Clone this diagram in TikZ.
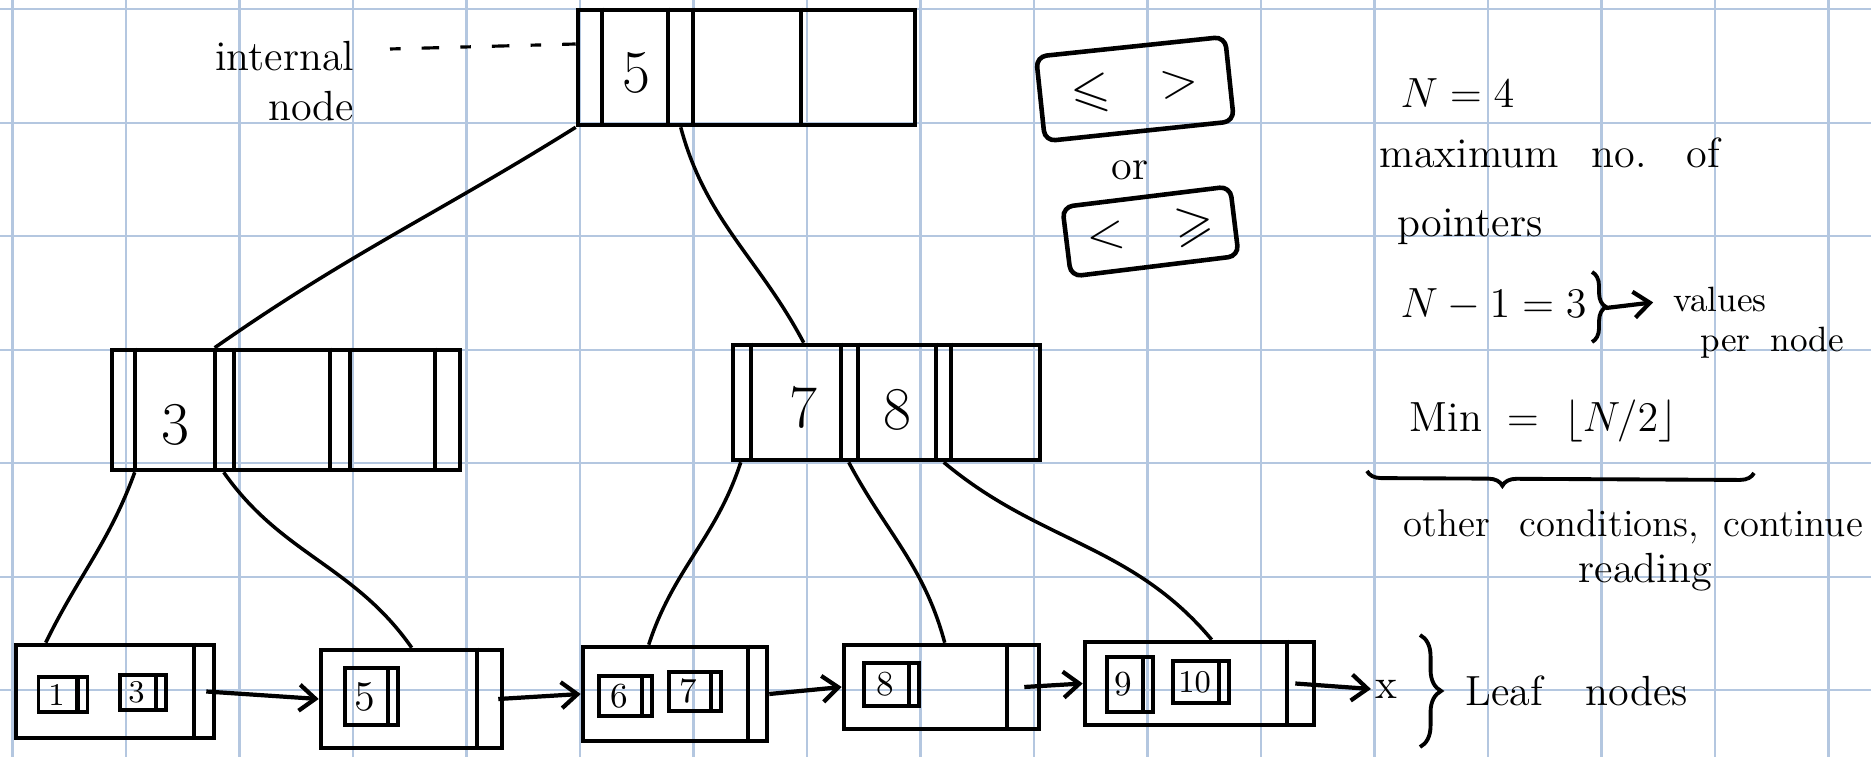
\documentclass[tikz,border=0pt]{standalone}
\usepackage{amsmath,amssymb}
\usepackage{tikz}
\usetikzlibrary{arrows.meta,decorations.pathreplacing}
\definecolor{gridblue}{RGB}{180,199,224}

\begin{document}
\begin{tikzpicture}[
  tnode/.style={draw, line width=1.3pt, inner sep=0pt},
  leaf/.style={draw, line width=1.3pt, inner sep=0pt},
  kbox/.style={draw, line width=1.1pt, inner sep=1pt, font=\normalsize,
               execute at end node=\hspace{1.3mm}},
  sep/.style={line width=1.2pt},
  key/.style={font=\LARGE},
  ptr/.style={line width=1pt},
  link/.style={line width=1.2pt, -{Straight Barb[length=1.6mm, width=2.6mm]}},
  cmp/.style={draw, line width=1.3pt, rounded corners=3pt, font=\Large},
  note/.style={font=\large, anchor=base west, inner sep=0pt},
  hint/.style={line width=0.9pt, dash pattern=on 3pt off 6pt on 5pt off 6pt},
  hbrace/.style={decorate, decoration={brace, amplitude=#1}, line width=1.1pt}
]
  \useasboundingbox (0,0) rectangle (18.71,-7.57);
  % squared paper
  \foreach \i in {0,...,16}
    \draw[gridblue, line width=0.6pt] (0.125+1.135*\i,0) -- (0.125+1.135*\i,-7.57);
  \foreach \j in {0,...,6}
    \draw[gridblue, line width=0.6pt] (0,-0.093-1.135*\j) -- (18.71,-0.093-1.135*\j);

  % internal nodes
  \node[tnode, minimum width=3.37cm, minimum height=1.15cm] (root) at (7.465,-0.675) {};
  \node[key] (r5) at (6.36,-0.73) {5};
  \foreach \d in {0.26,0.92,1.17,2.25}
    \draw[sep] ([xshift=\d cm]root.north west) -- ([xshift=\d cm]root.south west);

  \node[tnode, minimum width=3.48cm, minimum height=1.2cm] (midL) at (2.86,-4.10) {};
  \node[key] (m3) at (1.75,-4.25) {3};
  \foreach \d in {0.25,1.05,1.24,2.20,2.40,3.25}
    \draw[sep] ([xshift=\d cm]midL.north west) -- ([xshift=\d cm]midL.south west);

  \node[tnode, minimum width=3.07cm, minimum height=1.15cm] (midR) at (8.865,-4.025) {};
  \node[key] (m7) at (8.03,-4.07) {7};
  \node[key] (m8) at (8.97,-4.10) {8};
  \foreach \d in {0.20,1.10,1.27,2.05,2.20}
    \draw[sep] ([xshift=\d cm]midR.north west) -- ([xshift=\d cm]midR.south west);

  % leaf nodes
  \node[leaf, minimum width=1.98cm, minimum height=0.93cm] (leafA) at (1.15,-6.915) {};
  \node[leaf, minimum width=1.81cm, minimum height=0.98cm] (leafB) at (4.115,-6.99) {};
  \node[leaf, minimum width=1.84cm, minimum height=0.94cm] (leafC) at (6.75,-6.94) {};
  \node[leaf, minimum width=1.95cm, minimum height=0.84cm] (leafD) at (9.415,-6.87) {};
  \node[leaf, minimum width=2.29cm, minimum height=0.83cm] (leafE) at (11.995,-6.835) {};
  \foreach \n/\d in {leafA/0.22, leafB/0.27, leafC/0.21, leafD/0.34, leafE/0.29}
    \draw[sep] ([xshift=-\d cm]\n.north east) -- ([xshift=-\d cm]\n.south east);

  \node[kbox, minimum width=0.49cm, minimum height=0.35cm, font=\small] (kA1) at (0.63,-6.945) {1};
  \node[kbox, minimum width=0.46cm, minimum height=0.35cm, font=\small] (kA3) at (1.43,-6.925) {3};
  \node[kbox, minimum width=0.53cm, minimum height=0.57cm, font=\large] (kB5) at (3.715,-6.965) {5};
  \node[kbox, minimum width=0.53cm, minimum height=0.40cm] (kC6) at (6.255,-6.96) {6};
  \node[kbox, minimum width=0.52cm, minimum height=0.39cm] (kC7) at (6.95,-6.915) {7};
  \node[kbox, minimum width=0.55cm, minimum height=0.43cm] (kD8) at (8.915,-6.845) {8};
  \node[kbox, minimum width=0.46cm, minimum height=0.55cm] (kE9) at (11.30,-6.845) {9};
  \node[kbox, minimum width=0.56cm, minimum height=0.42cm, font=\small] (kE10) at (12.01,-6.82) {10};
  \foreach \k in {kA1,kA3,kB5,kC6,kC7,kD8,kE9,kE10}
    \draw[sep] ([xshift=-1.2mm]\k.north east) -- ([xshift=-1.2mm]\k.south east);

  % tree pointers
  \draw[ptr] (root.south west) to[out=212,in=35] ([xshift=1.05cm]midL.north west);
  \draw[ptr] ([xshift=1.05cm]root.south west) to[out=-75,in=118] ([xshift=0.73cm]midR.north west);
  \draw[ptr] ([xshift=0.25cm]midL.south west) to[out=-110,in=64] ([xshift=0.32cm]leafA.north west);
  \draw[ptr] ([xshift=1.14cm]midL.south west) to[out=-55,in=125] ([xshift=0.93cm]leafB.north west);
  \draw[ptr] ([xshift=0.10cm]midR.south west) to[out=-108,in=72] ([xshift=0.68cm]leafC.north west);
  \draw[ptr] ([xshift=1.18cm]midR.south west) to[out=-62,in=105] ([xshift=1.03cm]leafD.north west);
  \draw[ptr] ([xshift=2.13cm]midR.south west) to[out=-40,in=130] ([xshift=1.29cm]leafE.north west);

  % leaf chain
  \node[font=\large, inner sep=1pt] (nil) at (13.86,-6.89) {x};
  \draw[link] ([xshift=-0.10cm]leafA.east) -- (leafB.west);
  \draw[link] ([xshift=-0.06cm]leafB.east) -- (leafC.west);
  \draw[link] (leafC.east) -- (leafD.west);
  \draw[link] ([xshift=-0.17cm]leafD.east) -- (leafE.west);
  \draw[link] ([xshift=-0.21cm]leafE.east) -- (nil.west);
  \draw[hbrace=6pt] (14.2,-6.35) -- (14.2,-7.47);
  \node[note] (leaflbl) at (14.65,-7.05) {Leaf\quad nodes};

  % internal node label
  \node[font=\large, align=right, anchor=east, inner sep=0pt] (intlbl) at (3.55,-0.81) {internal\\node};
  \coordinate (hintstart) at (3.90,-0.49);
  \draw[hint] (hintstart) -- ([yshift=0.235cm]root.west);

  % comparison boxes
  \node[cmp, rotate=6, minimum width=1.9cm, minimum height=0.85cm] (cmpA) at (11.35,-0.89) {$\leqslant\quad>$};
  \node[font=\large] (orlbl) at (11.30,-1.70) {or};
  \node[cmp, rotate=7, minimum width=1.69cm, minimum height=0.70cm] (cmpB) at (11.505,-2.315) {$<\quad\geqslant$};

  % notes
  \node[note] (nval) at (14.0,-1.08) {$N = 4$};
  \node[note] (maxptr) at (13.79,-1.68) {maximum\hspace{3.3mm}no.\hspace{4mm}of};
  \node[note] (ptrs) at (13.97,-2.37) {pointers};
  \node[note] (nminus) at (14.0,-3.18) {$N - 1 = 3$};
  \draw[hbrace=4pt] (15.92,-2.72) -- (15.92,-3.42);
  \coordinate (vtip) at (16.06,-3.08);
  \node[note, font=\normalsize] (vals) at (16.73,-3.12) {values};
  \draw[link, shorten >=2mm] (vtip) -- (vals.west);
  \node[note, font=\normalsize] (pnode) at (17.0,-3.52) {per\hspace{2mm}node};
  \node[note] (minval) at (14.09,-4.32) {Min\hspace{2.5mm}$=$\hspace{2.5mm}$\lfloor N/2\rfloor$};
  \draw[hbrace=4pt, decoration={mirror, aspect=0.35}] (13.67,-4.71) -- (17.54,-4.73);
  \node[note, font={\fontsize{11}{13}\selectfont}] (other) at (14.03,-5.37) {other\hspace{3mm}conditions,\hspace{2.5mm}continue};
  \node[note] (reading) at (15.78,-5.83) {reading};
\end{tikzpicture}
\end{document}
